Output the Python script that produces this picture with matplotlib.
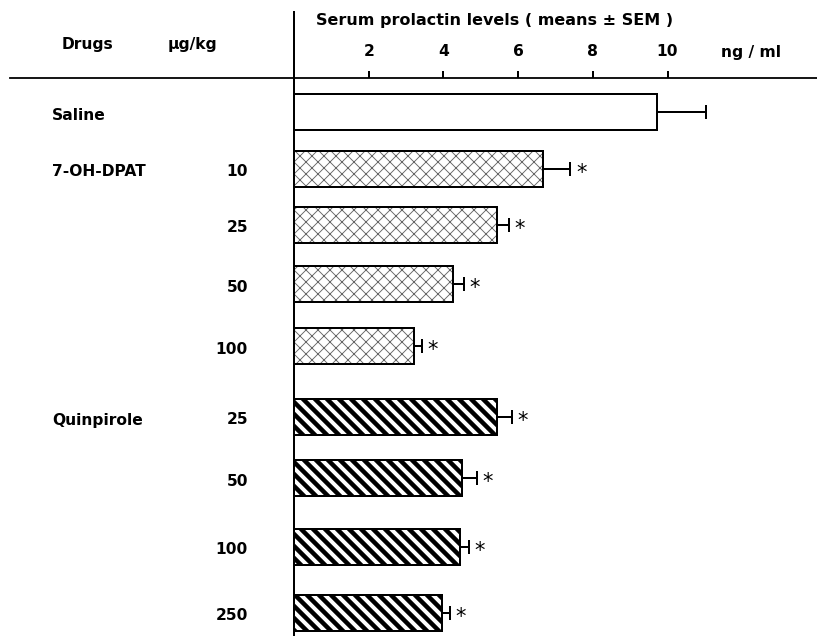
import matplotlib
matplotlib.use('Agg')
import matplotlib.pyplot as plt

# ---- data ----
drug_labels = ['Saline', '7-OH-DPAT', '', '', '', 'Quinpirole', '', '', '']
dose_labels = ['', '10', '25', '50', '100', '25', '50', '100', '250']
groups = ['saline', 'dpat', 'dpat', 'dpat', 'dpat', 'quin', 'quin', 'quin', 'quin']
means = [9.72, 6.68, 5.44, 4.26, 3.21, 5.43, 4.49, 4.44, 3.96]
sems = [1.31, 0.72, 0.31, 0.29, 0.22, 0.40, 0.40, 0.24, 0.21]
significant = [False, True, True, True, True, True, True, True, True]
xticks = [2, 4, 6, 8, 10]
title = 'Serum prolactin levels ( means \u00b1 SEM )'
unit = 'ng / ml'

# ---- layout (pixel based, 72 dpi so 1pt = 1px) ----
W, H = 817, 636
x0px, scale = 294, 37.35
rows_y = [112, 169, 225, 284, 346, 417, 478, 547, 613]
bar_h = 36
FONT = 'DejaVu Sans'
fs = 15.5

fig = plt.figure(figsize=(W / 72, H / 72), dpi=72)
ax = fig.add_axes([0, 0, 1, 1])
ax.set_xlim(-x0px / scale, (W - x0px) / scale)
ax.set_ylim(H, 0)
ax.axis('off')

trans = ax.get_yaxis_transform()  # x in axes fraction, y in data

def fx(px):
    return px / W

# bars
for g, m, y in zip(groups, means, rows_y):
    if g == 'saline':
        ax.barh(y, m, height=bar_h, left=0, color='white', edgecolor='black',
                linewidth=2, zorder=2)
    elif g == 'dpat':
        plt.rcParams['hatch.linewidth'] = 0.9
        b = ax.barh(y, m, height=bar_h, left=0, color='white', edgecolor='#666666',
                    hatch='xx', linewidth=0, zorder=2)
        for p in b.patches:
            try:
                p.set_hatch_linewidth(0.9)
            except Exception:
                pass
        ax.barh(y, m, height=bar_h, left=0, color='none', edgecolor='black',
                linewidth=2, zorder=3)
    else:
        plt.rcParams['hatch.linewidth'] = 4.5
        b = ax.barh(y, m, height=bar_h, left=0, color='white', edgecolor='black',
                    hatch='\\\\', linewidth=2, zorder=2)
        for p in b.patches:
            try:
                p.set_hatch_linewidth(4.5)
            except Exception:
                pass

ax.errorbar(means, rows_y, xerr=[[0] * len(sems), sems], fmt='none',
            ecolor='black', elinewidth=2, capsize=7, capthick=2, zorder=4)

for m, s, y, sig in zip(means, sems, rows_y, significant):
    if sig:
        ax.text(m + s + 0.15, y + 4, '*', fontsize=21, ha='left', va='center',
                family=FONT)

# axes lines
ax.axvline(0, ymin=0, ymax=1 - 12 / H, color='black', linewidth=2, zorder=5)
ax.axhline(78, xmin=fx(10), xmax=1, color='black', linewidth=1.8, zorder=5)
ax.vlines(xticks, 71, 78, color='black', linewidth=2)
for t in xticks:
    ax.text(t, 52, str(t), ha='center', va='center', fontsize=fs,
            fontweight='bold', family=FONT)
ax.text(fx(721), 52, unit, transform=trans, ha='left', va='center', fontsize=fs,
        fontweight='bold', family=FONT)
ax.text(fx(316), 20, title, transform=trans, ha='left', va='center', fontsize=16,
        fontweight='bold', family=FONT)

# left header
ax.text(fx(62), 45, 'Drugs', transform=trans, ha='left', va='center',
        fontsize=fs, fontweight='bold', family=FONT)
ax.text(fx(168), 45, '\u00b5g/kg', transform=trans, ha='left', va='center',
        fontsize=fs, fontweight='bold', family=FONT)

for d, dose, y in zip(drug_labels, dose_labels, rows_y):
    if d:
        ax.text(fx(52), y + 3, d, transform=trans, ha='left', va='center',
                fontsize=fs, fontweight='bold', family=FONT)
    if dose:
        ax.text(fx(248), y + 3, dose, transform=trans, ha='right', va='center',
                fontsize=fs, fontweight='bold', family=FONT)

fig.savefig('out.png', dpi=72)
